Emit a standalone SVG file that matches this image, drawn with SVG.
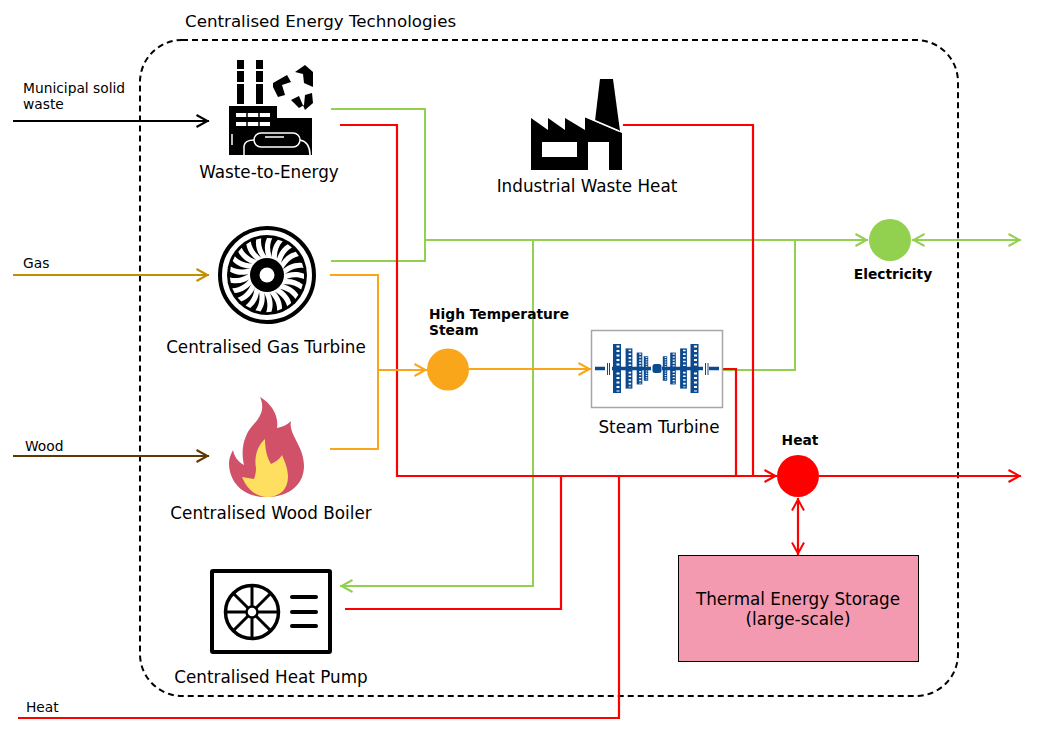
<svg xmlns="http://www.w3.org/2000/svg" width="1063" height="733" viewBox="0 0 1063 733">
<style>
text{font-family:"DejaVu Sans",Verdana,sans-serif;fill:#000}
.t{font-size:16.8px;text-anchor:middle}
.s{font-size:13.800px}
.b{font-size:13.800px;font-weight:bold}
.c{fill:none;stroke-width:2}
.gn{stroke:#92d050}.rd{stroke:#ff0000;stroke-width:2.200px}.or{stroke:#faa61a}
</style>
<defs>
<marker id="ak" markerUnits="userSpaceOnUse" markerWidth="18" markerHeight="16" refX="14.500" refY="8" orient="auto-start-reverse"><path d="M2 2L13 8L2 14" fill="none" stroke="#000" stroke-width="2"/></marker>
<marker id="ag" markerUnits="userSpaceOnUse" markerWidth="18" markerHeight="16" refX="14.500" refY="8" orient="auto-start-reverse"><path d="M2 2L13 8L2 14" fill="none" stroke="#92d050" stroke-width="2"/></marker>
<marker id="ar" markerUnits="userSpaceOnUse" markerWidth="18" markerHeight="16" refX="14.500" refY="8" orient="auto-start-reverse"><path d="M2 2L13 8L2 14" fill="none" stroke="#ff0000" stroke-width="2"/></marker>
<marker id="ao" markerUnits="userSpaceOnUse" markerWidth="18" markerHeight="16" refX="14.500" refY="8" orient="auto-start-reverse"><path d="M2 2L13 8L2 14" fill="none" stroke="#faa61a" stroke-width="2"/></marker>
<marker id="ay" markerUnits="userSpaceOnUse" markerWidth="18" markerHeight="16" refX="14.500" refY="8" orient="auto-start-reverse"><path d="M2 2L13 8L2 14" fill="none" stroke="#c09000" stroke-width="2"/></marker>
<marker id="ab" markerUnits="userSpaceOnUse" markerWidth="18" markerHeight="16" refX="14.500" refY="8" orient="auto-start-reverse"><path d="M2 2L13 8L2 14" fill="none" stroke="#5f3a00" stroke-width="2"/></marker>
<path id="blade" d="M13 -3C20 -10 28 -13 35 -12L36.500 -7C28 -8 21 -4 15 2Z" fill="#fff"/>
<g id="stage"><rect x="-4" y="-24.500" width="8" height="49" fill="#0b4a8f"/><path d="M1 -23V23" stroke="#fff" stroke-width="3" stroke-dasharray="2 2.500" fill="none"/></g>
</defs>

<g id="boundary"><rect x="140" y="40" width="818" height="656" rx="42" fill="none" stroke="#000" stroke-width="2" stroke-dasharray="6 4"/>
<text x="185" y="27" style="font-size:16.7px">Centralised Energy Technologies</text></g>

<g id="connectors">
<path class="c gn" d="M331 109H425V261H331"/>
<path class="c gn" d="M425 240H868" marker-end="url(#ag)"/>
<path class="c gn" d="M533 240V586H340" marker-end="url(#ag)"/>
<path class="c gn" d="M722 370H795V240"/>
<path class="c gn" d="M912 240H1021" marker-start="url(#ag)" marker-end="url(#ag)"/>
<path class="c rd" d="M340 125H397V476H777" marker-end="url(#ar)"/>
<path class="c rd" d="M623 125H753V476"/>
<path class="c rd" d="M722 369H736V476"/>
<path class="c rd" d="M561 476V609H345"/>
<path class="c rd" d="M619 476V718H18"/>
<path class="c rd" d="M819 476H1021" marker-end="url(#ar)"/>
<path class="c rd" d="M798 498V555" marker-start="url(#ar)" marker-end="url(#ar)"/>
<path class="c or" d="M330 275H378V449H330"/>
<path class="c or" d="M378 370H427" marker-end="url(#ao)"/>
<path class="c or" d="M469 369H591" marker-end="url(#ao)"/>
<path class="c" stroke="#000" d="M13 121H209" marker-end="url(#ak)"/>
<path class="c" stroke="#c09000" d="M13 275H209" marker-end="url(#ay)"/>
<path class="c" stroke="#5f3a00" d="M13 456H209" marker-end="url(#ab)"/>
</g>

<g id="input-msw"><text class="s" x="23" y="93">Municipal solid</text><text class="s" x="23" y="109">waste</text></g>
<g id="input-gas"><text class="s" x="23" y="268">Gas</text></g>
<g id="input-wood"><text class="s" x="25" y="451">Wood</text></g>
<g id="input-heat"><text class="s" x="26" y="712">Heat</text></g>

<g id="waste-to-energy">
<rect x="237" y="60" width="7" height="9"/><rect x="237" y="71" width="7" height="11"/><rect x="237" y="84" width="7" height="20"/>
<rect x="256" y="60" width="7" height="9"/><rect x="256" y="71" width="7" height="11"/><rect x="256" y="84" width="7" height="20"/>
<path d="M229 106H277V118H312V155H229Z"/>
<path d="M236 115H270M236 124H270" stroke="#fff" stroke-width="4" fill="none"/>
<path d="M247 112V118M259 112V118M247 121V127M259 121V127" stroke="#000" stroke-width="1.500"/>
<path d="M232 134V145" stroke="#fff" stroke-width="1.500"/>
<rect x="254" y="133" width="46" height="14" rx="7" fill="none" stroke="#fff" stroke-width="1.500"/>
<path d="M244 155V146Q245 140 254 140M300 140Q310 142 310 155" fill="none" stroke="#fff" stroke-width="1.500"/>
<path d="M265 137H284" stroke="#fff" stroke-width="1.500"/>
<path d="M295 72L305 65L313 72V87L304 83L303 74Z"/>
<path d="M273 83L287 75L291 82L282 85L285 95L278 97L273 87Z"/>
<path d="M291 100L299 96L305 110L313 103L312 93L305 95L304 105L299 108Z"/>
<text class="t" x="269" y="178">Waste-to-Energy</text>
</g>

<g id="gas-turbine">
<circle cx="267" cy="275" r="47" fill="none" stroke="#000" stroke-width="4"/>
<circle cx="267" cy="275" r="40"/>
<g transform="translate(267 275)">
<use href="#blade"/><use href="#blade" transform="rotate(17)"/><use href="#blade" transform="rotate(34)"/><use href="#blade" transform="rotate(51)"/><use href="#blade" transform="rotate(68)"/><use href="#blade" transform="rotate(85)"/><use href="#blade" transform="rotate(102)"/><use href="#blade" transform="rotate(119)"/><use href="#blade" transform="rotate(136)"/><use href="#blade" transform="rotate(153)"/><use href="#blade" transform="rotate(170)"/><use href="#blade" transform="rotate(187)"/><use href="#blade" transform="rotate(204)"/><use href="#blade" transform="rotate(221)"/><use href="#blade" transform="rotate(238)"/><use href="#blade" transform="rotate(255)"/><use href="#blade" transform="rotate(272)"/><use href="#blade" transform="rotate(289)"/><use href="#blade" transform="rotate(306)"/><use href="#blade" transform="rotate(323)"/><use href="#blade" transform="rotate(340)"/>
</g>
<circle cx="267" cy="275" r="17"/>
<circle cx="267" cy="275" r="7.500" fill="#fff"/>
<text class="t" x="266" y="353">Centralised Gas Turbine</text>
</g>

<g id="wood-boiler">
<path d="M260 397C272 404 279 416 277 428C282 427 287 425 291 421C288 434 304 446 304 466C304 484 290 497 266 497C243 497 229 482 229 463C229 458 231 454 233 450C234 456 238 462 244 465C240 448 245 433 254 424C261 416 265 408 260 397Z" fill="#d05168"/>
<path d="M265 439C257 446 254 458 256 468C256 473 255 476 254 479L242 477C247 489 256 497 267 497C279 497 288 490 288 477C288 469 285 462 282 455C279 460 275 462 271 464C267 458 265 449 265 439Z" fill="#ffdf60"/>
<text class="t" x="271" y="519">Centralised Wood Boiler</text>
</g>

<g id="heat-pump">
<rect x="212" y="571" width="118" height="81" rx="1" fill="none" stroke="#000" stroke-width="4"/>
<circle cx="252" cy="612" r="26.500" fill="none" stroke="#000" stroke-width="3.500"/>
<circle cx="252" cy="612" r="5.500" fill="none" stroke="#000" stroke-width="2.500"/>
<path d="M252 586V606M252 618V638M226 612H246M258 612H278M234 594L248 608M256 616L270 630M270 594L256 608M248 616L234 630" stroke="#000" stroke-width="3" fill="none"/>
<path d="M292 597H316M292 612H316M292 626H316" stroke="#000" stroke-width="4" stroke-linecap="round"/>
<text class="t" x="271" y="683">Centralised Heat Pump</text>
</g>

<g id="industrial-waste-heat">
<path d="M600 79H613L620 131L595 121Z"/>
<path d="M531 118L548 130V118L565 130V118L585 130V117L622 133V170H609V142H588V170H531Z"/>
<path d="M585 116.500L619 131" stroke="#fff" stroke-width="1.500" fill="none"/>
<rect x="542" y="142" width="35" height="15" fill="#fff"/>
<text class="t" x="587" y="192">Industrial Waste Heat</text>
</g>

<g id="hts"><circle cx="448" cy="369.500" r="21" fill="#faa61a"/><text class="b" x="429" y="319">High Temperature</text><text class="b" x="429" y="335">Steam</text></g>

<g id="steam-turbine">
<rect x="591.500" y="330.500" width="131" height="77" fill="#fff" stroke="#a6a6a6" stroke-width="1.500"/>
<use href="#stage" transform="translate(617 368.500)"/><use href="#stage" transform="translate(629 368.500) scale(.85 .82)"/><use href="#stage" transform="translate(639.500 368.500) scale(.7 .65)"/><use href="#stage" transform="translate(646 368.500) scale(.55 .5)"/>
<use href="#stage" transform="translate(665 368.500) scale(.55 .5)"/><use href="#stage" transform="translate(673 368.500) scale(.7 .65)"/><use href="#stage" transform="translate(683.500 368.500) scale(.85 .82)"/><use href="#stage" transform="translate(694.500 368.500)"/>
<path d="M595 368.500H605M612 368.500H651M662 368.500H703M709 368.500H719" stroke="#0b4a8f" stroke-width="3.500" fill="none"/>
<rect x="652.500" y="364" width="9" height="9" rx="2.500" fill="#0b4a8f"/>
<path d="M607.500 363V375M609.500 363V375M705.500 363V375M708 363V375" stroke="#0b4a8f" stroke-width="1"/>
<text class="t" x="659" y="433">Steam Turbine</text>
</g>

<g id="electricity"><circle cx="890" cy="240" r="21" fill="#92d050"/><text class="b" x="893" y="279" text-anchor="middle">Electricity</text></g>
<g id="heat"><circle cx="798" cy="476" r="21" fill="#ff0000"/><text class="b" x="800" y="445" text-anchor="middle">Heat</text></g>
<g id="storage"><rect x="678.500" y="555.500" width="240" height="106" fill="#f49ab0" stroke="#000" stroke-width="1"/>
<text class="t" x="798" y="605">Thermal Energy Storage</text><text class="t" x="798" y="625">(large-scale)</text></g>
</svg>
